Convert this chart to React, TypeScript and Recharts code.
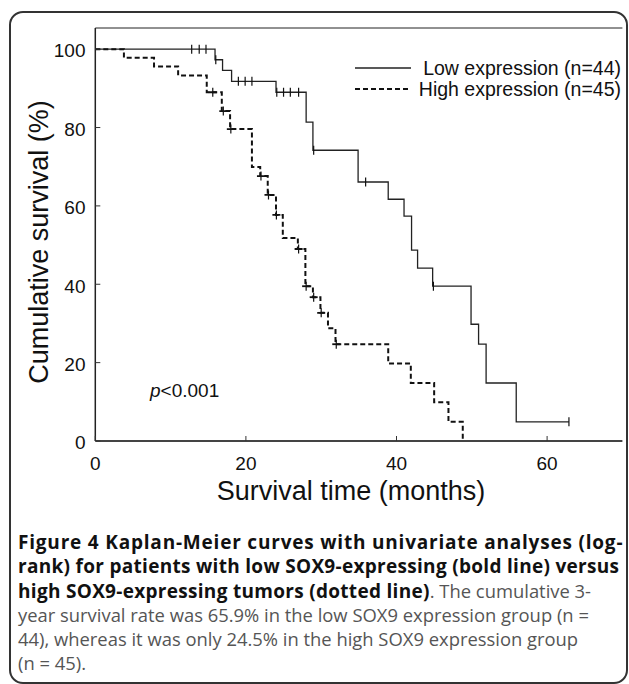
import { ComposedChart, Line, XAxis, YAxis, ReferenceLine, Legend } from 'recharts'

// Kaplan-Meier steps (months, % surviving, 1 = censored mark)
const lowTime = [0, 12.8, 13.8, 14.7, 15.9, 16.0, 16.9, 18.1, 19.0, 19.9, 20.8, 24.0, 24.1, 25.0, 25.9, 27.0, 28.0, 28.9, 29.0, 34.9, 35.9, 38.9, 41.0, 42.0, 42.8, 44.8, 44.9, 49.9, 50.9, 51.9, 55.9, 62.9]
const lowSurv = [100, 100, 100, 100, 97.3, 97.3, 94.6, 91.8, 91.8, 91.8, 91.8, 89.0, 89.0, 89.0, 89.0, 89.0, 81.4, 74.2, 74.2, 66.1, 66.1, 61.7, 57.4, 48.7, 44.1, 39.5, 39.5, 29.8, 24.7, 14.8, 4.9, 4.9]
const lowCens = [0, 1, 1, 1, 0, 1, 0, 0, 1, 1, 1, 0, 1, 1, 1, 1, 0, 0, 1, 0, 1, 0, 0, 0, 0, 0, 1, 0, 0, 0, 0, 1]

const highTime = [0, 3.8, 7.8, 11.0, 14.8, 15.6, 16.8, 17.0, 17.9, 18.0, 20.8, 21.9, 22.0, 22.9, 23.0, 24.0, 24.05, 24.9, 26.9, 27.0, 27.9, 28.0, 28.9, 29.0, 29.9, 30.0, 30.9, 31.9, 32.0, 38.9, 41.9, 45.0, 46.9, 48.8]
const highSurv = [100, 97.8, 95.6, 93.3, 89.0, 89.0, 84.2, 84.2, 79.6, 79.6, 69.9, 67.6, 67.6, 62.8, 62.8, 57.7, 57.7, 51.8, 49.0, 49.0, 39.5, 39.5, 36.7, 36.7, 32.7, 32.7, 28.8, 24.7, 24.7, 19.8, 14.8, 9.9, 4.9, 0]
const highCens = [0, 0, 0, 0, 0, 1, 0, 1, 0, 1, 0, 0, 1, 0, 1, 0, 1, 0, 0, 1, 0, 1, 0, 1, 0, 1, 0, 0, 1, 0, 0, 0, 0, 0]

const xTicks = [0, 20, 40, 60]
const yTicks = [0, 20, 40, 60, 80, 100]
const seriesNames = ['Low expression (n=44)', 'High expression (n=45)']

const toRows = (t: number[], s: number[], c: number[]) => t.map((v, i) => ({ t: v, s: s[i], c: c[i] }))
const lowData = toRows(lowTime, lowSurv, lowCens)
const highData = toRows(highTime, highSurv, highCens)

const FONT = '"Liberation Sans", Arial, Helvetica, sans-serif'
const AXIS_X = 95.3
const AXIS_Y = 441
const Y_MAX = 105.4

function XTick(props: any) {
  const { x, payload } = props
  return (
    <g>
      <line x1={x} x2={x} y1={AXIS_Y} y2={AXIS_Y - 5} stroke="#333" strokeWidth={1} />
      <text x={x} y={470} textAnchor="middle" fontSize={19} fontFamily={FONT} fill="#111">
        {payload.value}
      </text>
    </g>
  )
}

function YTick(props: any) {
  const { y, payload } = props
  return (
    <g>
      <line x1={AXIS_X} x2={AXIS_X + 5} y1={y} y2={y} stroke="#333" strokeWidth={1} />
      <text x={85.5} y={y + 8.3} textAnchor="end" fontSize={19} fontFamily={FONT} fill="#111">
        {payload.value}
      </text>
    </g>
  )
}

const censorDot = (cross: boolean) => (p: any) => {
  const { cx, cy, payload, index } = p
  if (!payload.c) return <g key={`n${index}`} />
  return (
    <g key={`c${index}`}>
      <line x1={cx} x2={cx} y1={cy - 4.5} y2={cy + 4.5} stroke="#111" strokeWidth={1.2} />
      {cross && <line x1={cx - 4} x2={cx + 4} y1={cy} y2={cy} stroke="#111" strokeWidth={1.8} />}
    </g>
  )
}

function KMLegend() {
  return (
    <svg width={290} height={50} style={{ display: 'block' }}>
      <line x1={15} x2={71} y1={13} y2={13} stroke="#222" strokeWidth={1.3} />
      <text x={281} y={20} textAnchor="end" fontSize={19.5} fontFamily={FONT} fill="#111">
        {seriesNames[0]}
      </text>
      <line x1={15} x2={69} y1={34} y2={34} stroke="#111" strokeWidth={2} strokeDasharray="5 3" />
      <text x={281} y={41} textAnchor="end" fontSize={19.5} fontFamily={FONT} fill="#111">
        {seriesNames[1]}
      </text>
    </svg>
  )
}

const bold = (spacing: number) => ({ color: '#111', fontSize: 19, letterSpacing: spacing })

export default function App() {
  return (
    <div style={{ position: 'absolute', left: 0, top: 0, width: 629, height: 684, background: '#fff', overflow: 'hidden' }}>
      <div
        style={{
          position: 'absolute',
          left: 9,
          top: 11,
          width: 619,
          height: 673,
          boxSizing: 'border-box',
          border: '2px solid #333',
          borderRadius: 14,
        }}
      />
      <div style={{ position: 'absolute', left: 0, top: 0 }}>
        <ComposedChart width={629} height={684} margin={{ top: 28, right: 6.6, bottom: 0, left: 0 }}>
          <XAxis
            type="number"
            dataKey="t"
            domain={[0, 70]}
            ticks={xTicks}
            allowDataOverflow
            height={243}
            axisLine={{ stroke: '#444', strokeWidth: 1.8 }}
            tickLine={false}
            tick={<XTick />}
          />
          <YAxis
            type="number"
            domain={[0, Y_MAX]}
            ticks={yTicks}
            allowDataOverflow
            width={AXIS_X}
            axisLine={{ stroke: '#222', strokeWidth: 1.5 }}
            tickLine={false}
            tick={<YTick />}
          />
          <ReferenceLine y={Y_MAX} stroke="#222" strokeWidth={1} />
          <Line
            data={lowData}
            dataKey="s"
            name={seriesNames[0]}
            type="stepAfter"
            stroke="#222"
            strokeWidth={1.3}
            dot={censorDot(false)}
            activeDot={false}
            isAnimationActive={false}
          />
          <Line
            data={highData}
            dataKey="s"
            name={seriesNames[1]}
            type="stepAfter"
            stroke="#111"
            strokeWidth={2}
            strokeDasharray="5 3"
            dot={censorDot(true)}
            activeDot={false}
            isAnimationActive={false}
          />
          <Legend
            layout="vertical"
            verticalAlign="middle"
            align="center"
            content={<KMLegend />}
            wrapperStyle={{ left: 340, top: 55, width: 290, height: 50 }}
          />
        </ComposedChart>
      </div>
      <svg width={629} height={684} style={{ position: 'absolute', left: 0, top: 0, pointerEvents: 'none' }}>
        <text
          x={47.5}
          y={242}
          transform="rotate(-90 47.5 242)"
          textAnchor="middle"
          fontSize={27}
          fontFamily={FONT}
          fill="#111"
        >
          Cumulative survival (%)
        </text>
        <text x={351} y={500} textAnchor="middle" fontSize={27} fontFamily={FONT} fill="#111">
          Survival time (months)
        </text>
        <text x={150} y={397} fontSize={19} fontFamily={FONT} fill="#111">
          <tspan fontStyle="italic">p</tspan>&lt;0.001
        </text>
      </svg>
      <div
        style={{
          position: 'absolute',
          left: 18,
          top: 530,
          fontFamily: '"Open Sans", "Noto Sans", sans-serif',
          fontSize: 18.4,
          lineHeight: '24.3px',
          whiteSpace: 'nowrap',
          color: '#555',
        }}
      >
        <b style={bold(0.8)}>Figure 4 Kaplan-Meier curves with univariate analyses (log-</b>
        <br />
        <b style={bold(0.3)}>rank) for patients with low SOX9-expressing (bold line) versus</b>
        <br />
        <b style={bold(0.3)}>high SOX9-expressing tumors (dotted line)</b>. The cumulative 3-
        <br />
        year survival rate was 65.9% in the low SOX9 expression group (n =
        <br />
        44), whereas it was only 24.5% in the high SOX9 expression group
        <br />
        (n = 45).
      </div>
    </div>
  )
}
